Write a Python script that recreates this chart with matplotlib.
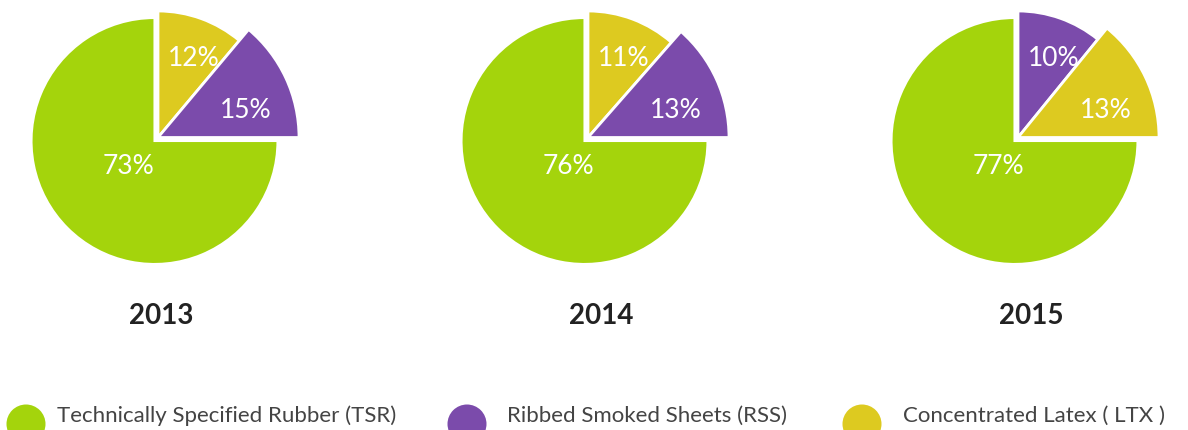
import matplotlib
matplotlib.use('Agg')
import matplotlib.pyplot as plt
from matplotlib.patches import Wedge, Circle
from matplotlib import font_manager

# ---- data ----
years = ['2013', '2014', '2015']
tsr = [73, 76, 77]   # Technically Specified Rubber
rss = [15, 13, 10]   # Ribbed Smoked Sheets
ltx = [12, 11, 13]   # Concentrated Latex
# order of the two small slices, clockwise from 12 o'clock
small_order = [['LTX', 'RSS'], ['LTX', 'RSS'], ['RSS', 'LTX']]
legend_labels = ['Technically Specified Rubber (TSR)',
                 'Ribbed Smoked Sheets (RSS)',
                 'Concentrated Latex ( LTX )']

# ---- style / layout ----
colors = {'TSR': '#A4D40C', 'RSS': '#7B4BAB', 'LTX': '#DDCA20'}
W, H = 1188, 430
PIE_X = [158, 588, 1018]     # vertex of small slices (px)
PIE_Y = 137.5
YEAR_X = [161, 601, 1031]
R_GREEN, R_FIRST, R_SECOND = 123, 126.5, 141
GREEN_SHIFT = (-3.5, 3.5)    # px offset of the green wedge vertex

names = {f.name for f in font_manager.fontManager.ttflist}
FONT = 'Lato' if 'Lato' in names else 'DejaVu Sans'

fig = plt.figure(figsize=(W / 100, H / 100), dpi=100)
ax = fig.add_axes([0, 0, 1, 1])
ax.set_xlim(0, W)
ax.set_ylim(0, H)
ax.axis('off')

def py(y):
    return H - y

vals = {'TSR': tsr, 'RSS': rss, 'LTX': ltx}

for i, yr in enumerate(years):
    vx, vy = PIE_X[i], py(PIE_Y)
    gx, gy = vx + GREEN_SHIFT[0], vy - GREEN_SHIFT[1]
    ax.add_patch(Wedge((gx, gy), R_GREEN, 90, 360, facecolor=colors['TSR'],
                       edgecolor='white', linewidth=1.5))
    k1, k2 = small_order[i]
    a, b = vals[k1][i], vals[k2][i]
    split = 90 - 90 * a / (a + b)
    ax.add_patch(Wedge((vx, vy), R_FIRST, split, 90, facecolor=colors[k1],
                       edgecolor='white', linewidth=2))
    ax.add_patch(Wedge((vx, vy), R_SECOND, 0, split, facecolor=colors[k2],
                       edgecolor='white', linewidth=2))
    lab_kw = dict(color='white', fontsize=19, family=FONT,
                  ha='center', va='center')
    ax.text(vx + 36, py(59), f'{a}%', **lab_kw)
    ax.text(vx + 88, py(110), f'{b}%', **lab_kw)
    ax.text(YEAR_X[i] - 33, py(167), f'{tsr[i]}%', **lab_kw)
    ax.text(YEAR_X[i], py(316), yr, color='#222222', fontsize=20,
            family=FONT, fontweight='bold', ha='center', va='center')

leg_keys = ['TSR', 'RSS', 'LTX']
leg_cx = [26, 467, 862]
leg_tx = [57, 507, 903]
for k, cx, tx, lab in zip(leg_keys, leg_cx, leg_tx, legend_labels):
    ax.add_patch(Circle((cx, py(424)), 19.5, facecolor=colors[k], edgecolor='none'))
    ax.text(tx, py(416), lab, color='#444444', fontsize=16, family=FONT,
            ha='left', va='center')

fig.savefig('out.png', dpi=100, facecolor='white')
